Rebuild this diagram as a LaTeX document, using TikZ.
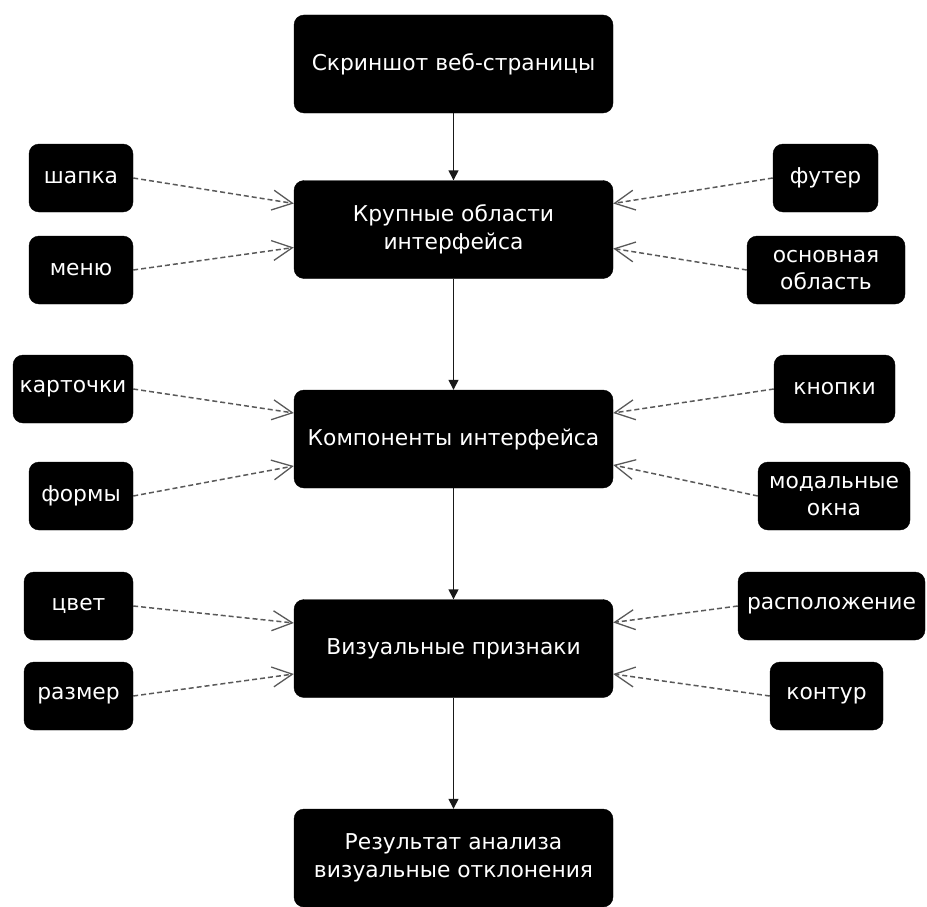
\documentclass[tikz,border=0pt]{standalone}
\usepackage{fontspec}
\setmainfont{DejaVu Sans}
\usetikzlibrary{arrows.meta}
\begin{document}
\begin{tikzpicture}[x=1pt,y=-1pt,
  box/.style={fill=black,draw=black,rounded corners=10pt,text=white,align=center,inner sep=0pt,font=\fontsize{21.8}{27.5}\selectfont},
  mainbox/.style={box,minimum width=319pt,minimum height=98pt},
  sidebox/.style={box,minimum height=68pt},
  flow/.style={line width=1.4pt,draw=black!90,-{Triangle[length=10pt,width=10pt]}},
  feed/.style={line width=1.5pt,draw=black!65,dash pattern=on 5pt off 3pt,-{Straight Barb[length=20pt,width=20pt,line width=1.3pt]}}
]
\useasboundingbox (0,0) rectangle (927,907);
\node[mainbox] (b1) at (453.5,64) {Скриншот веб-страницы};
\node[mainbox] (b2) at (453.5,229.5) {Крупные области\\интерфейса};
\node[mainbox] (b3) at (453.5,439) {Компоненты интерфейса};
\node[mainbox] (b4) at (453.5,648.5) {Визуальные признаки};
\node[mainbox] (b5) at (453.5,858) {Результат анализа\\визуальные отклонения};

\node[sidebox,minimum width=104pt] (s1) at (81,178) {шапка};
\node[sidebox,minimum width=104pt] (s2) at (81,270) {меню};
\node[sidebox,minimum width=105pt] (s3) at (825.5,178) {футер};
\node[sidebox,minimum width=158pt] (s4) at (826,270) {основная\\область};

\node[sidebox,minimum width=120pt] (s5) at (73,389) {карточки};
\node[sidebox,minimum width=104pt] (s6) at (81,496) {формы};
\node[sidebox,minimum width=121pt] (s7) at (834.5,389) {кнопки};
\node[sidebox,minimum width=152pt] (s8) at (834,496) {модальные\\окна};

\node[sidebox,minimum width=109pt] (s9) at (78.5,606) {цвет};
\node[sidebox,minimum width=109pt] (s10) at (78.5,696) {размер};
\node[sidebox,minimum width=187pt] (s11) at (831.5,606) {расположение};
\node[sidebox,minimum width=113pt] (s12) at (826.5,696) {контур};

\draw[flow] (b1) -- (b2);
\draw[flow] (b2) -- (b3);
\draw[flow] (b3) -- (b4);
\draw[flow] (b4) -- (b5);

\draw[feed] (s1.east) -- ([yshift=26pt]b2.west);
\draw[feed] (s2.east) -- ([yshift=-18pt]b2.west);
\draw[feed] (s3.west) -- ([yshift=26pt]b2.east);
\draw[feed] (s4.west) -- ([yshift=-19pt]b2.east);

\draw[feed] (s5.east) -- ([yshift=26pt]b3.west);
\draw[feed] (s6.east) -- ([yshift=-27pt]b3.west);
\draw[feed] (s7.west) -- ([yshift=26pt]b3.east);
\draw[feed] (s8.west) -- ([yshift=-26pt]b3.east);

\draw[feed] (s9.east) -- ([yshift=25.5pt]b4.west);
\draw[feed] (s10.east) -- ([yshift=-25.5pt]b4.west);
\draw[feed] (s11.west) -- ([yshift=26pt]b4.east);
\draw[feed] (s12.west) -- ([yshift=-25.5pt]b4.east);
\end{tikzpicture}
\end{document}
